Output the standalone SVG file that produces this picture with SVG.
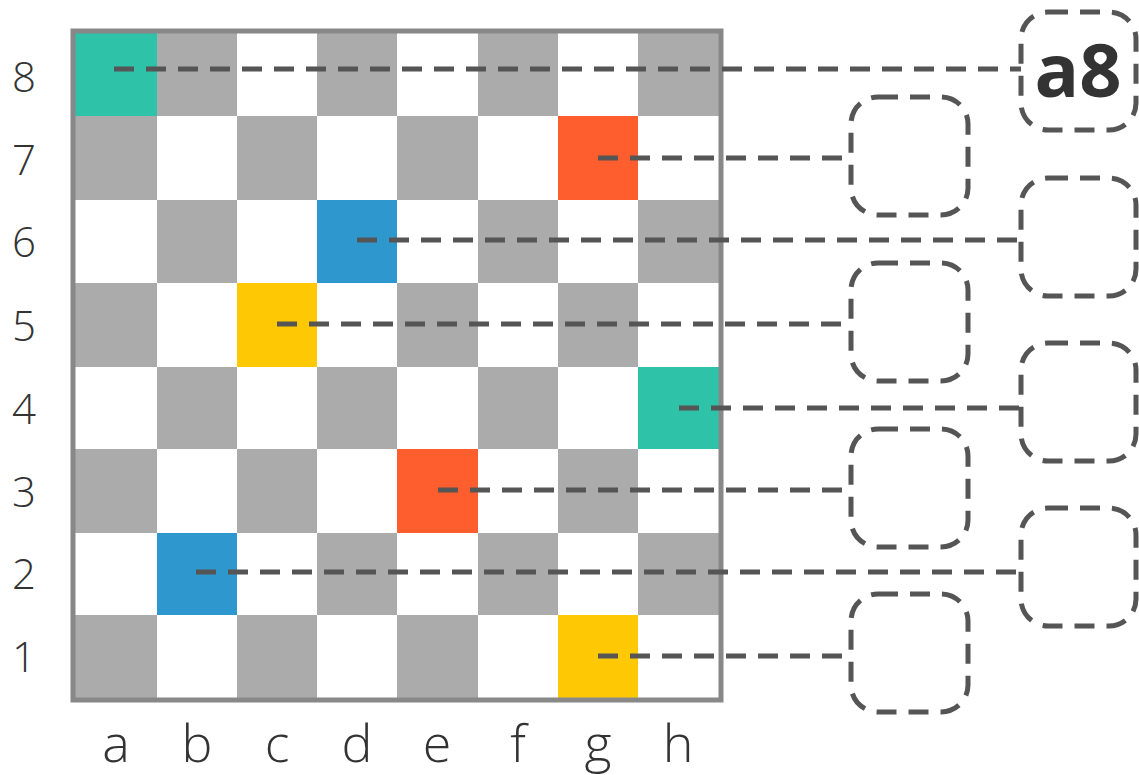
<svg xmlns="http://www.w3.org/2000/svg" width="1139" height="775" viewBox="0 0 1139 775">
<style>
.dk{fill:#ababab}
.teal{fill:#2ec3a8}
.orange{fill:#fe5e2e}
.blue{fill:#2e97cd}
.yellow{fill:#ffc805}
.conn{stroke:#555;stroke-width:5;stroke-dasharray:20 12;fill:none}
.box{stroke:#555;stroke-width:5;stroke-dasharray:20 12;fill:none}
.rank{font-family:"Open Sans","Liberation Sans",sans-serif;font-weight:300;font-size:42px;fill:#333;text-anchor:middle}
.file{font-family:"Open Sans","Liberation Sans",sans-serif;font-weight:300;font-size:52px;fill:#333;text-anchor:middle}
.lbl{font-family:"Open Sans","Liberation Sans",sans-serif;font-weight:700;font-size:74px;fill:#333;text-anchor:middle}
</style>
<rect width="1139" height="775" fill="#fff"/>
<g id="board">
<rect x="73" y="31" width="648" height="669" fill="#fff"/>
<!-- row 8 -->
<rect class="teal" x="75" y="33" width="82" height="83"/>
<rect class="dk" x="157" y="33" width="80" height="83"/>
<rect class="dk" x="317" y="33" width="80" height="83"/>
<rect class="dk" x="478" y="33" width="80" height="83"/>
<rect class="dk" x="638" y="33" width="81" height="83"/>
<!-- row 7 -->
<rect class="dk" x="75" y="116" width="82" height="84"/>
<rect class="dk" x="237" y="116" width="80" height="84"/>
<rect class="dk" x="397" y="116" width="81" height="84"/>
<rect class="orange" x="558" y="116" width="80" height="84"/>
<!-- row 6 -->
<rect class="dk" x="157" y="200" width="80" height="83"/>
<rect class="blue" x="317" y="200" width="80" height="83"/>
<rect class="dk" x="478" y="200" width="80" height="83"/>
<rect class="dk" x="638" y="200" width="81" height="83"/>
<!-- row 5 -->
<rect class="dk" x="75" y="283" width="82" height="84"/>
<rect class="yellow" x="237" y="283" width="80" height="84"/>
<rect class="dk" x="397" y="283" width="81" height="84"/>
<rect class="dk" x="558" y="283" width="80" height="84"/>
<!-- row 4 -->
<rect class="dk" x="157" y="367" width="80" height="82"/>
<rect class="dk" x="317" y="367" width="80" height="82"/>
<rect class="dk" x="478" y="367" width="80" height="82"/>
<rect class="teal" x="638" y="367" width="81" height="82"/>
<!-- row 3 -->
<rect class="dk" x="75" y="449" width="82" height="84"/>
<rect class="dk" x="237" y="449" width="80" height="84"/>
<rect class="orange" x="397" y="449" width="81" height="84"/>
<rect class="dk" x="558" y="449" width="80" height="84"/>
<!-- row 2 -->
<rect class="blue" x="157" y="533" width="80" height="82"/>
<rect class="dk" x="317" y="533" width="80" height="82"/>
<rect class="dk" x="478" y="533" width="80" height="82"/>
<rect class="dk" x="638" y="533" width="81" height="82"/>
<!-- row 1 -->
<rect class="dk" x="75" y="615" width="82" height="83"/>
<rect class="dk" x="237" y="615" width="80" height="83"/>
<rect class="dk" x="397" y="615" width="81" height="83"/>
<rect class="yellow" x="558" y="615" width="80" height="83"/>
<rect x="73" y="31" width="648" height="669" fill="none" stroke="#888" stroke-width="5"/>
</g>
<g id="ranks">
<text class="rank" x="24" y="92">8</text>
<text class="rank" x="24" y="175">7</text>
<text class="rank" x="24" y="257">6</text>
<text class="rank" x="24" y="341">5</text>
<text class="rank" x="24" y="424">4</text>
<text class="rank" x="24" y="507">3</text>
<text class="rank" x="24" y="589">2</text>
<text class="rank" x="24" y="672">1</text>
</g>
<g id="files">
<text class="file" x="116" y="762">a</text>
<text class="file" x="197" y="762">b</text>
<text class="file" x="277" y="762">c</text>
<text class="file" x="357" y="762">d</text>
<text class="file" x="437" y="762">e</text>
<text class="file" x="518" y="762">f</text>
<text class="file" x="598" y="762">g</text>
<text class="file" x="678" y="762">h</text>
</g>
<g id="connectors">
<line class="conn" x1="114" y1="69" x2="1021" y2="69"/>
<line class="conn" x1="598" y1="158" x2="851" y2="158"/>
<line class="conn" x1="357" y1="240" x2="1021" y2="240"/>
<line class="conn" x1="277" y1="324" x2="851" y2="324"/>
<line class="conn" x1="679" y1="408" x2="1021" y2="408"/>
<line class="conn" x1="438" y1="490" x2="851" y2="490"/>
<line class="conn" x1="196" y1="572" x2="1021" y2="572"/>
<line class="conn" x1="598" y1="656" x2="851" y2="656"/>
</g>
<g id="box-a8">
<rect class="box" x="1021" y="12" width="115" height="118" rx="27"/>
<text class="lbl" x="1078" y="97">a8</text>
</g>
<g id="box-g7"><rect class="box" x="851" y="97" width="117" height="118" rx="27"/></g>
<g id="box-d6"><rect class="box" x="1021" y="178" width="115" height="118" rx="27"/></g>
<g id="box-c5"><rect class="box" x="851" y="263" width="117" height="118" rx="27"/></g>
<g id="box-h4"><rect class="box" x="1021" y="343" width="115" height="118" rx="27"/></g>
<g id="box-e3"><rect class="box" x="851" y="429" width="117" height="118" rx="27"/></g>
<g id="box-b2"><rect class="box" x="1021" y="508" width="115" height="118" rx="27"/></g>
<g id="box-g1"><rect class="box" x="851" y="594" width="117" height="118" rx="27"/></g>
</svg>
